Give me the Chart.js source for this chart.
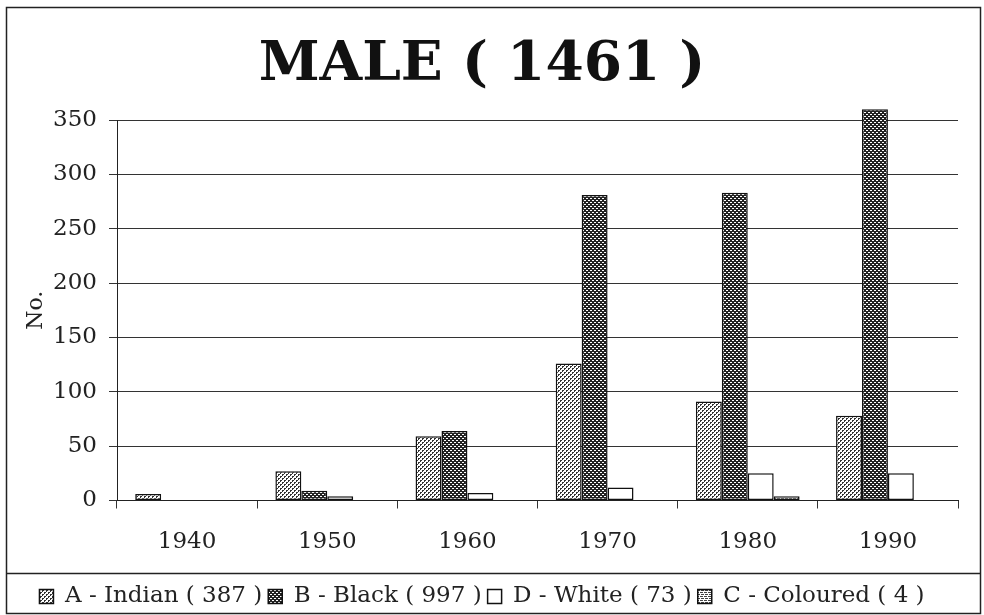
<!DOCTYPE html>
<html>
<head>
<meta charset="utf-8">
<script src="https://cdn.jsdelivr.net/npm/chart.js@4/dist/chart.umd.min.js"></script>
<style>
  html, body { margin: 0; padding: 0; background: #fff; }
  #wrap { width: 984px; height: 615px; }
</style>
</head>
<body>
<div id="wrap"><canvas id="maleChart" width="984" height="615"></canvas></div>
<script>
// data
const years = ["1940", "1950", "1960", "1970", "1980", "1990"];
const indian = [6, 27, 59, 126, 91, 78];
const black = [0, 9, 64, 281, 283, 360];
const white = [0, 4, 7, 12, 25, 25];
const coloured = [0, 0, 0, 0, 4, 0];
const seriesNames = ["A - Indian ( 387 )", "B - Black ( 997 )", "D - White ( 73 )", "C - Coloured ( 4 )"];
const chartTitle = "MALE ( 1461 )";
const yMax = 350;
const yStep = 50;

// little bitmap tiles for the dotted fills
const makePattern = (rows, dark, light) => {
  const c = document.createElement("canvas");
  c.width = rows[0].length;
  c.height = rows.length;
  const g = c.getContext("2d");
  rows.forEach((r, y) => {
    for (let x = 0; x < r.length; x++) {
      g.fillStyle = r[x] === "#" ? dark : light;
      g.fillRect(x, y, 1, 1);
    }
  });
  return g.createPattern(c, "repeat");
};

const indianFill = makePattern(["##..", "#...", "..##", "..#."], "#333", "#fff");
const blackFill = makePattern(["..##", "####", "##..", "####"], "#222", "#fff");
const colouredFill = makePattern(["###.", "....", ".###", "...."], "#444", "#fff");

const serif = "'DejaVu Serif', 'Liberation Serif', serif";

const framePlugin = {
  id: "frame",
  afterDraw(chart) {
    const ctx = chart.ctx;
    ctx.save();
    ctx.strokeStyle = "#222";
    ctx.lineWidth = 1.5;
    ctx.strokeRect(6.5, 7.5, 974, 606);
    ctx.beginPath();
    ctx.moveTo(6.5, 573.5);
    ctx.lineTo(980.5, 573.5);
    ctx.stroke();
    ctx.restore();
  }
};

const drawChart = () => {
  new Chart(document.getElementById("maleChart"), {
    type: "bar",
    data: {
      labels: years,
      datasets: [
        { label: seriesNames[0], data: indian, backgroundColor: indianFill, clip: false },
        { label: seriesNames[1], data: black, backgroundColor: blackFill, clip: false },
        { label: seriesNames[2], data: white, backgroundColor: "#fff", clip: false },
        { label: seriesNames[3], data: coloured, backgroundColor: colouredFill, clip: false },
      ],
    },
    options: {
      responsive: false,
      animation: false,
      devicePixelRatio: 1,
      layout: { padding: { left: 6, right: 26, top: 0, bottom: -3 } },
      datasets: {
        bar: {
          borderColor: "#111",
          borderWidth: 1.5,
          borderSkipped: false,
          categoryPercentage: 0.74,
          barPercentage: 1.0,
        },
      },
      plugins: {
        title: {
          display: true,
          text: chartTitle,
          color: "#111",
          font: { family: serif, size: 55, weight: "bold", lineHeight: 1.2 },
          padding: { top: 33, bottom: 21 },
        },
        legend: {
          position: "bottom",
          labels: {
            color: "#222",
            font: { family: serif, size: 23 },
            boxWidth: 14,
            boxHeight: 14,
            padding: 6,
          },
        },
        tooltip: { enabled: false },
      },
      scales: {
        x: {
          afterFit(s) { s.height = 78.5; },
          grid: { display: true, offset: true, drawOnChartArea: false, color: "#333", tickLength: 8 },
          border: { display: true, color: "#222", width: 1 },
          ticks: { color: "#222", font: { family: serif, size: 23 }, padding: 20 },
        },
        y: {
          min: 0,
          max: yMax,
          afterFit(s) { s.width = 111; },
          grid: { color: "#333", lineWidth: 1, tickLength: 8 },
          border: { display: true, color: "#222", width: 1 },
          ticks: { stepSize: yStep, color: "#222", font: { family: serif, size: 23 }, padding: 12 },
          title: {
            display: true,
            text: "No.",
            color: "#222",
            font: { family: serif, size: 22 },
            padding: { top: 17, bottom: 0 },
          },
        },
      },
    },
    plugins: [framePlugin],
  });
};

window.addEventListener("load", drawChart);
</script>
</body>
</html>
